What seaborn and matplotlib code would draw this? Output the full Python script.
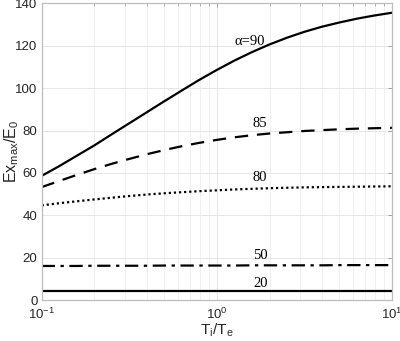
import numpy as np
import pandas as pd
import matplotlib
matplotlib.use("Agg")
import matplotlib.pyplot as plt
import seaborn as sns
from matplotlib.ticker import LogLocator, NullFormatter

# Data (x = Ti/Te on log scale, steps of 0.1 decade)
ti_te = [0.1, 0.126, 0.158, 0.2, 0.251, 0.316, 0.398, 0.501, 0.631, 0.794,
         1.0, 1.259, 1.585, 1.995, 2.512, 3.162, 3.981, 5.012, 6.31, 7.943, 10.0]
alpha90 = [58.6, 63.2, 68.0, 73.0, 78.2, 83.4, 88.6, 93.8, 98.9, 103.9,
           108.6, 113.0, 117.0, 120.6, 123.8, 126.6, 129.0, 131.0, 132.8, 134.3, 135.6]
alpha85 = [53.3, 56.2, 59.0, 61.8, 64.3, 66.6, 68.8, 70.8, 72.6, 74.2,
           75.6, 76.8, 77.8, 78.6, 79.2, 79.8, 80.2, 80.6, 80.9, 81.1, 81.3]
alpha80 = [44.7, 45.7, 46.6, 47.5, 48.3, 49.1, 49.8, 50.4, 50.9, 51.4,
           51.8, 52.2, 52.5, 52.8, 53.0, 53.2, 53.3, 53.4, 53.5, 53.6, 53.7]
alpha50 = [16.1, 16.1, 16.1, 16.2, 16.2, 16.2, 16.2, 16.3, 16.3, 16.3,
           16.3, 16.3, 16.4, 16.4, 16.4, 16.4, 16.4, 16.5, 16.5, 16.5, 16.5]
alpha20 = [4.4] * 21

labels = ["α=90", "85", "80", "50", "20"]
label_x = [1.55, 1.77, 1.77, 1.77, 1.77]
label_y = [121.9, 83.3, 57.9, 21.2, 8.0]

series = [alpha90, alpha85, alpha80, alpha50, alpha20]
styles = ["-", (0, (6, 4)), (0, (1, 1.3)), (0, (6, 2.5, 1.5, 2.5)), "-"]

sns.set_style("white")
plt.rcParams["font.family"] = ["Liberation Sans", "DejaVu Sans"]

fig = plt.figure(figsize=(4.0, 3.41), dpi=100)
ax = fig.add_axes([0.104, 0.12, 0.876, 0.87])

for vals, ls in zip(series, styles):
    df = pd.DataFrame({"x": ti_te, "y": vals})
    sns.lineplot(data=df, x="x", y="y", ax=ax, color="black", lw=1.6,
                 linestyle=ls, legend=False)

ax.set_xscale("log")
ax.set_xlim(0.1, 10)
ax.set_ylim(0, 140)
ax.set_yticks([0, 20, 40, 60, 80, 100, 120, 140])
ax.xaxis.set_minor_locator(LogLocator(base=10, subs=np.arange(2, 10)))
ax.xaxis.set_minor_formatter(NullFormatter())

ax.grid(True, which="major", color="#e6e6e6", lw=0.7)
ax.grid(True, which="minor", axis="x", color="#eeeeee", lw=0.6)
ax.set_axisbelow(True)

for s in ax.spines.values():
    s.set_color("#bdbdbd")
    s.set_linewidth(0.9)
    s.set_visible(True)

ax.tick_params(axis="both", which="both", direction="in", top=True, right=True,
               colors="#a0a0a0", labelcolor="#262626", labelsize=9.5)
ax.tick_params(which="major", length=3, width=0.7)
ax.tick_params(which="minor", length=2, width=0.6)
ax.tick_params(axis="x", which="major", pad=5)
ax.tick_params(axis="y", which="major", pad=3)

ax.set_xlabel("T$_\\mathregular{i}$/T$_\\mathregular{e}$", fontsize=11, color="#262626")
ax.xaxis.set_label_coords(0.5, -0.072)
ax.set_ylabel("Ex$_\\mathregular{max}$/E$_\\mathregular{0}$", fontsize=11.5, color="#262626")
ax.yaxis.set_label_coords(-0.06, 0.5)

for t, lx, ly in zip(labels, label_x, label_y):
    ax.text(lx, ly, t, ha="center", va="center", fontsize=10.5,
            family=["Liberation Serif", "DejaVu Serif"], color="black")

fig.savefig("out.png", dpi=100)
